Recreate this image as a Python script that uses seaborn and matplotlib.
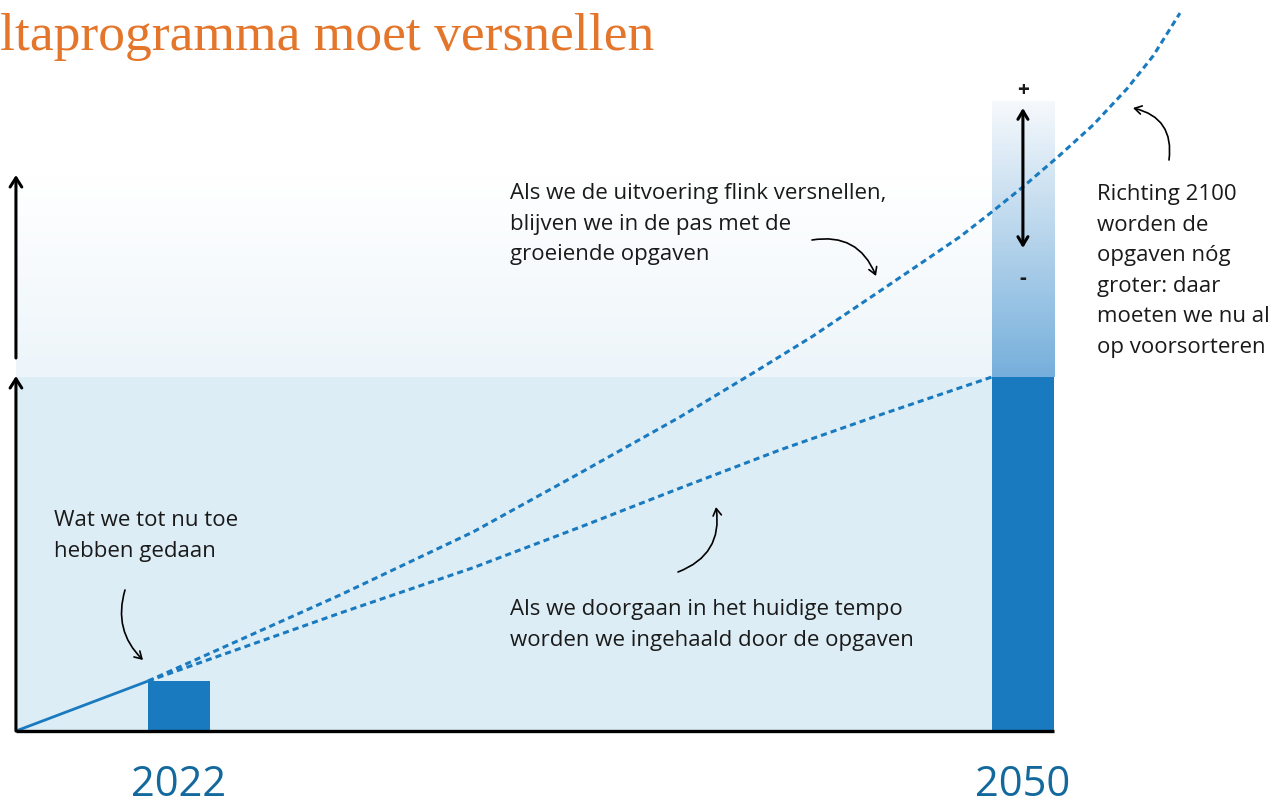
import numpy as np
import pandas as pd
import matplotlib
matplotlib.use("Agg")
import matplotlib.pyplot as plt
from matplotlib.colors import LinearSegmentedColormap
from matplotlib.patches import FancyArrowPatch, Rectangle
import seaborn as sns

# ---------------- data ----------------
bar_years = [2022, 2050]
bar_values = [14.1, 100.0]
year_labels = ["2022", "2050"]

# realised progress so far (solid)
done_years = [2016.59, 2020.97]
done_values = [0.0, 14.1]

# scenario: continue at current pace (dashed, lower)
pace_years = [2020.97, 2027.34, 2031.75, 2035.31, 2038.62, 2041.94, 2045.26, 2048.97]
pace_values = [14.1, 33.3, 46.1, 57.6, 68.6, 79.4, 89.3, 100.0]

# scenario: accelerate (dashed, steeper)
fast_years = [2020.97, 2027.34, 2031.75, 2035.31, 2038.62, 2041.04, 2043.04,
              2045.26, 2047.91, 2049.01, 2050.00, 2051.23, 2052.33, 2053.45,
              2054.32, 2055.21]
fast_values = [14.1, 38.4, 56.2, 72.9, 88.7, 101.1, 111.6, 124.3, 139.6,
               146.9, 153.7, 162.7, 171.2, 181.4, 190.7, 202.8]

uncert_low, uncert_high = 100.0, 177.7   # gradient band above 2050 bar

# ---------------- styling ----------------
W, H = 1276, 807
PX_PER_YEAR = 30.14
PX_PER_UNIT = 3.54
XMIN = 2022 - 179 / PX_PER_YEAR
XMAX = XMIN + W / PX_PER_YEAR
YMIN = -(H - 731) / PX_PER_UNIT
YMAX = 731 / PX_PER_UNIT


def X(px):
    return XMIN + px / PX_PER_YEAR


def Y(py):
    return (731 - py) / PX_PER_UNIT


BLUE = "#1a7abf"
LIGHT = "#ddedf6"
TXT = "#1a1a1a"
ORANGE = "#e4762c"
YEARC = "#13699c"

sns.set_theme(style="white")
plt.rcParams["font.family"] = ["Open Sans", "DejaVu Sans"]

fig = plt.figure(figsize=(W / 100, H / 100), dpi=100)
ax = fig.add_axes([0, 0, 1, 1])
ax.set_axis_off()

bar_w = 2.06
x_left = done_years[0]
x_right = bar_years[1] + bar_w / 2

# light-blue area under the 2050 level
ax.add_patch(Rectangle((x_left, 0), x_right - x_left, bar_values[1],
                       facecolor=LIGHT, edgecolor="none", zorder=0))
# faint gradient above it (bottom light blue -> top white)
grad_bg = LinearSegmentedColormap.from_list("bg", ["#ffffff", "#edf5fa"])
ax.imshow(np.linspace(1, 0, 256).reshape(-1, 1), cmap=grad_bg,
          extent=[x_left, bar_years[1] - bar_w / 2, bar_values[1], Y(175)],
          aspect="auto", zorder=0, origin="lower", vmin=0, vmax=1)
# uncertainty gradient bar (bottom mid blue -> top almost white)
grad_bar = LinearSegmentedColormap.from_list("bar", ["#f6f9fc", "#76afdb"])
ax.imshow(np.linspace(1, 0, 256).reshape(-1, 1), cmap=grad_bar,
          extent=[bar_years[1] - bar_w / 2, bar_years[1] + bar_w / 2,
                  uncert_low, uncert_high],
          aspect="auto", zorder=1, origin="lower", vmin=0, vmax=1)

# bars
df_bars = pd.DataFrame({"year": bar_years, "value": bar_values})
sns.barplot(data=df_bars, x="year", y="value", native_scale=True,
            width=bar_w / (bar_years[1] - bar_years[0]), color=BLUE,
            saturation=1, ax=ax, zorder=2, linewidth=0)

# lines
sns.lineplot(x=done_years, y=done_values, ax=ax, color=BLUE, lw=2.0,
             zorder=3, solid_capstyle="butt")
dash = (0, (2.0, 1.35))
sns.lineplot(x=pace_years, y=pace_values, ax=ax, color=BLUE, lw=2.2,
             linestyle=dash, zorder=3)
sns.lineplot(x=fast_years, y=fast_values, ax=ax, color=BLUE, lw=2.2,
             linestyle=dash, zorder=3)

# axes lines (baseline + left arrows)
ax.plot([x_left, x_right], [0, 0], color="black", lw=2.4, zorder=4,
        solid_capstyle="butt")
arrow_kw = dict(arrowstyle="->,head_length=0.55,head_width=0.35",
                color="black", lw=2.2, shrinkA=0, shrinkB=0)
ax.annotate("", xy=(x_left, Y(376)), xytext=(x_left, 0),
            arrowprops=arrow_kw, zorder=5)
ax.annotate("", xy=(x_left, Y(175)), xytext=(x_left, Y(358)),
            arrowprops=arrow_kw, zorder=5)

# double arrow on 2050 band
ax.annotate("", xy=(bar_years[1], Y(108)), xytext=(bar_years[1], Y(248)),
            arrowprops=dict(arrowstyle="<->,head_length=0.5,head_width=0.3",
                            color="black", lw=2.2, shrinkA=0, shrinkB=0),
            zorder=5)
ax.text(bar_years[1], Y(90), "+", ha="center", va="center", fontsize=15,
        fontweight="bold", color=TXT)
ax.text(bar_years[1], Y(278), "-", ha="center", va="center", fontsize=15,
        fontweight="bold", color=TXT)

# annotation texts
fs = 16
ls = 1.6
ax.text(X(54), Y(510), "Wat we tot nu toe\nhebben gedaan", ha="left",
        va="top", fontsize=fs, color=TXT, linespacing=ls)
ax.text(X(510), Y(183), "Als we de uitvoering flink versnellen,\n"
        "blijven we in de pas met de\ngroeiende opgaven", ha="left",
        va="top", fontsize=fs, color=TXT, linespacing=ls)
ax.text(X(510), Y(599), "Als we doorgaan in het huidige tempo\n"
        "worden we ingehaald door de opgaven", ha="left", va="top",
        fontsize=fs, color=TXT, linespacing=ls)
ax.text(X(1097), Y(184), "Richting 2100\nworden de\nopgaven nóg\n"
        "groter: daar\nmoeten we nu al\nop voorsorteren", ha="left",
        va="top", fontsize=fs, color=TXT, linespacing=ls)


# curved pointer arrows
def curved(p0, p1, rad):
    a = FancyArrowPatch((X(p0[0]), Y(p0[1])), (X(p1[0]), Y(p1[1])),
                        connectionstyle=f"arc3,rad={rad}",
                        arrowstyle="->,head_length=5,head_width=3",
                        color="black", lw=1.2, zorder=6,
                        shrinkA=0, shrinkB=0)
    ax.add_patch(a)


curved((125, 590), (143, 660), 0.3)
curved((812, 240), (876, 276), -0.4)
curved((678, 572), (716, 507), 0.4)
curved((1169, 160), (1133, 108), 0.45)

# year labels
for yr, lab in zip(bar_years, year_labels):
    ax.text(yr, Y(796), lab, ha="center", va="baseline", fontsize=30,
            color=YEARC)

# title (cropped at the left in the original)
fig.text(0, 1 - 50 / H, "ltaprogramma moet versnellen",
         family="Liberation Serif", fontsize=38.5, color=ORANGE,
         ha="left", va="baseline")

ax.set_xlim(XMIN, XMAX)
ax.set_ylim(YMIN, YMAX)

fig.savefig("out.png", dpi=100)
